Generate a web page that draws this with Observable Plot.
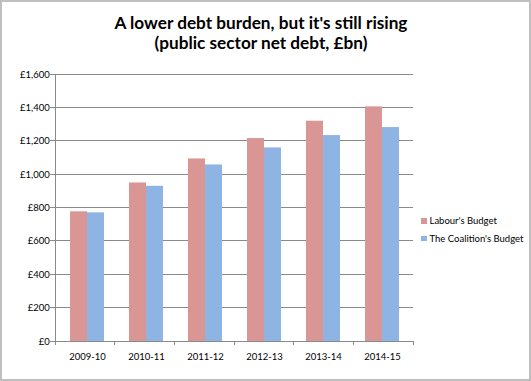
<!DOCTYPE html>
<html>
<head>
<meta charset="utf-8">
<script src="https://cdn.jsdelivr.net/npm/d3@7"></script>
<script src="https://cdn.jsdelivr.net/npm/@observablehq/plot@0.6"></script>
<style>
  html, body { margin: 0; padding: 0; background: #fff; }
  #wrap { position: relative; width: 531px; height: 381px; overflow: hidden; font-family: Lato, "Open Sans", sans-serif; }
  #border { position: absolute; left: 0; top: 0; width: 531px; height: 381px; box-sizing: border-box; border: 2px solid #bfbfbf; pointer-events: none; }
  #title { position: absolute; left: 0; width: 522px; top: 12.5px; text-align: center; font-weight: bold; font-size: 17.2px; line-height: 20px; color: #000; }
  #chart { position: absolute; left: 0; top: 60px; }
  #legend { position: absolute; left: 421px; top: 212px; font-size: 9.5px; color: #000; }
  .item { display: flex; align-items: center; height: 17.5px; }
  .sw { width: 5.5px; height: 5.5px; margin-right: 3px; }
</style>
</head>
<body>
<div id="wrap">
  <div id="title">A lower debt burden, but it's still rising<br>(public sector net debt, £bn)</div>
  <div id="chart"></div>
  <div id="legend"></div>
  <div id="border"></div>
</div>
<script>
const years = ["2009-10", "2010-11", "2011-12", "2012-13", "2013-14", "2014-15"];
const series = ["Labour's Budget", "The Coalition's Budget"];
const labour = [777, 950, 1094, 1216, 1320, 1406];
const coalition = [771, 930, 1058, 1160, 1234, 1282];
const colors = ["#d99694", "#8eb4e3"];
const yTicks = [0, 200, 400, 600, 800, 1000, 1200, 1400, 1600];
const yTickLabels = ["£0", "£200", "£400", "£600", "£800", "£1,000", "£1,200", "£1,400", "£1,600"];

const data = [];
years.forEach((yr, i) => {
  data.push({year: yr, series: series[0], value: labour[i]});
  data.push({year: yr, series: series[1], value: coalition[i]});
});

const W = 531, H = 321;
const plot = Plot.plot({
  width: W,
  height: H,
  marginTop: 14,
  marginBottom: 40,
  marginLeft: 55,
  marginRight: 118,
  style: {fontFamily: "Lato, 'Open Sans', sans-serif", fontSize: "9.5px", color: "#000", background: "transparent"},
  facet: {data, x: "year", marginTop: 14, marginBottom: 40, marginLeft: 55, marginRight: 118},
  fx: {domain: years, paddingInner: 0.425, paddingOuter: 0.2125, axis: "bottom", tickSize: 0, tickPadding: 12, label: null},
  x: {domain: series, padding: 0, axis: null},
  y: {domain: [0, 1600], ticks: yTicks, tickFormat: d => yTickLabels[yTicks.indexOf(d)], tickSize: 0, tickPadding: 8, label: null},
  color: {domain: series, range: colors},
  marks: [
    Plot.barY(data, {x: "series", y: "value", fill: "series"})
  ]
});

// Continuous gridlines, axis lines and boundary ticks, drawn from Plot's own scales
const fxs = plot.scale("fx"), ys = plot.scale("y");
const fxBand = d3.scaleBand().domain(fxs.domain).range(fxs.range)
  .paddingInner(fxs.paddingInner).paddingOuter(fxs.paddingOuter).align(fxs.align ?? 0.5);
const yLin = d3.scaleLinear().domain(ys.domain).range(ys.range);
const step = fxBand.step();
const x0 = fxs.range[0], x1 = fxs.range[1];
const ns = "http://www.w3.org/2000/svg";
const svg = plot.tagName.toLowerCase() === "svg" ? plot : plot.querySelector("svg");

// Move Plot's y-axis (drawn against the first facet) so its labels sit left of the axis line
const firstFacetLeft = fxBand(years[0]);
svg.querySelectorAll("g[aria-label='y-axis tick label'], g[aria-label='y-axis']").forEach(el => {
  const prev = el.getAttribute("transform") || "";
  el.setAttribute("transform", `translate(${x0 - firstFacetLeft},0) ` + prev);
});

const g = document.createElementNS(ns, "g");
g.setAttribute("stroke", "#8a8a8a");
g.setAttribute("stroke-width", "1");
g.setAttribute("shape-rendering", "crispEdges");
function line(xa, ya, xb, yb) {
  const l = document.createElementNS(ns, "line");
  l.setAttribute("x1", xa); l.setAttribute("y1", ya);
  l.setAttribute("x2", xb); l.setAttribute("y2", yb);
  g.appendChild(l);
}
const y0 = yLin(0);
yTicks.forEach(t => {
  const y = yLin(t);
  if (t !== 0) line(x0, y, x1, y);
  line(x0 - 5, y, x0, y);
});
line(x0, yLin(yTicks[yTicks.length - 1]), x0, y0);
line(x0, y0, x1, y0);
for (let i = 0; i <= years.length; i++) {
  const bx = (i < years.length ? fxBand(years[i]) : fxBand(years[years.length - 1]) + step) - step * fxs.paddingInner / 2;
  line(bx, y0, bx, y0 + 4);
}
const firstG = Array.from(svg.children).find(c => c.tagName.toLowerCase() === "g");
svg.insertBefore(g, firstG);

document.getElementById("chart").appendChild(plot);

const legend = document.getElementById("legend");
series.forEach((s, i) => {
  const item = document.createElement("div");
  item.className = "item";
  const sw = document.createElement("div");
  sw.className = "sw";
  sw.style.background = colors[i];
  const tx = document.createElement("span");
  tx.textContent = s;
  item.appendChild(sw); item.appendChild(tx);
  legend.appendChild(item);
});
</script>
</body>
</html>
